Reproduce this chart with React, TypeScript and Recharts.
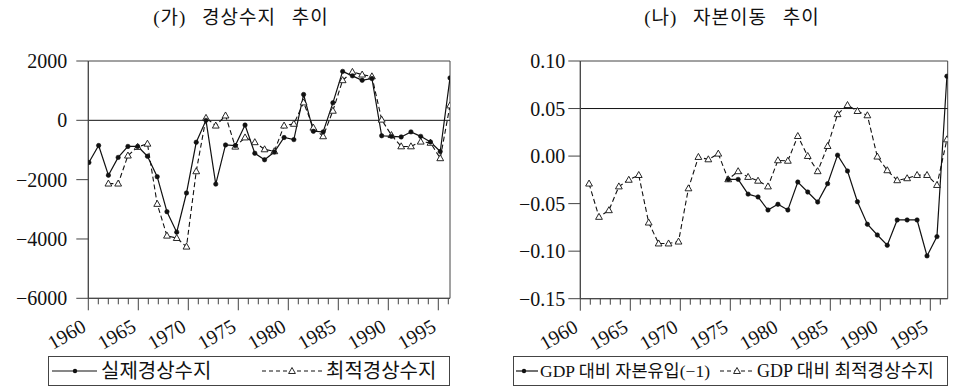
import React from 'react';
import { LineChart, Line, XAxis, YAxis, ReferenceLine, ReferenceArea } from 'recharts';

// ---- data ----
const years = [1960, 1961, 1962, 1963, 1964, 1965, 1966, 1967, 1968, 1969, 1970, 1971, 1972, 1973, 1974, 1975, 1976, 1977, 1978, 1979, 1980, 1981, 1982, 1983, 1984, 1985, 1986, 1987, 1988, 1989, 1990, 1991, 1992, 1993, 1994, 1995, 1996, 1997];

const actualCurrentAccount = [-1420, -850, -1850, -1250, -880, -880, -1210, -1900, -3080, -3770, -2450, -740, 0, -2150, -830, -850, -160, -1110, -1330, -1070, -580, -650, 870, -370, -390, 590, 1650, 1500, 1350, 1410, -520, -540, -560, -390, -540, -730, -1050, 1430];

const optimalCurrentAccount = [null, null, -2135, -2135, -1190, -900, -790, -2820, -3890, -3970, -4260, -1720, 80, -180, 160, -890, -580, -740, -980, -1045, -180, -120, 600, -250, -540, 320, 1350, 1630, 1540, 1480, 20, -500, -880, -880, -720, -760, -1280, 500];

const capitalInflowRatio = [null, null, null, null, null, null, null, null, null, null, null, null, null, null, null, -0.0245, -0.0245, -0.040, -0.043, -0.0567, -0.0507, -0.0567, -0.0273, -0.0378, -0.0483, -0.029, 0.001, -0.0157, -0.048, -0.0717, -0.083, -0.0938, -0.0672, -0.0672, -0.0672, -0.105, -0.0847, 0.084];

const optimalCurrentAccountRatio = [null, -0.029, -0.064, -0.057, -0.032, -0.025, -0.020, -0.070, -0.092, -0.092, -0.090, -0.034, -0.001, -0.0035, 0.0025, -0.0245, -0.016, -0.022, -0.026, -0.032, -0.0045, -0.005, 0.021, 0.000, -0.016, 0.0105, 0.044, 0.0536, 0.0473, 0.0428, -0.0006, -0.015, -0.0255, -0.0234, -0.020, -0.020, -0.0305, 0.0175];

const axisYears = [1960, 1961, 1962, 1963, 1964, 1965, 1966, 1967, 1968, 1969, 1970, 1971, 1972, 1973, 1974, 1975, 1976, 1977, 1978, 1979, 1980, 1981, 1982, 1983, 1984, 1985, 1986, 1987, 1988, 1989, 1990, 1991, 1992, 1993, 1994, 1995, 1996];
const leftYTicks = [-6000, -4000, -2000, 0, 2000];
const rightYTicks = [-0.15, -0.10, -0.05, 0, 0.05, 0.10];

const leftTitle = '(가) 경상수지 추이';
const rightTitle = '(나) 자본이동 추이';
const leftLegend = ['실제경상수지', '최적경상수지'];
const rightLegend = ['GDP 대비 자본유입(−1)', 'GDP 대비 최적경상수지'];

const leftData = years.map((y, i) => ({ year: y, actual: actualCurrentAccount[i], optimal: optimalCurrentAccount[i] }));
const rightData = years.map((y, i) => ({ year: y, inflow: capitalInflowRatio[i], optimal: optimalCurrentAccountRatio[i] }));

const FONT = "'Liberation Serif', 'Noto Sans CJK KR', serif";
const KFONT = "'Liberation Serif', 'Noto Sans CJK KR', sans-serif";
const INK = '#111';
const AXIS = '#444';

const minus = (s: string) => s.replace('-', '\u2212');

const Dot = (props: any) => {
  const { cx, cy, index } = props;
  if (cx == null || cy == null) return <g key={`d${index}`} />;
  return <circle key={`d${index}`} cx={cx} cy={cy} r={2.2} fill={INK} stroke={INK} strokeWidth={0.6} />;
};

const Tri = (props: any) => {
  const { cx, cy, index } = props;
  if (cx == null || cy == null) return <g key={`t${index}`} />;
  return (
    <path
      key={`t${index}`}
      d={`M${cx},${cy - 3.6} L${cx + 3.4},${cy + 2.4} L${cx - 3.4},${cy + 2.4} Z`}
      fill="#fff"
      stroke={INK}
      strokeWidth={0.9}
    />
  );
};

const YearTick = (props: any) => {
  const { x, y, payload } = props;
  const v = payload.value;
  const major = Math.round(v) % 5 === 0;
  const tx = x - 1;
  const ty = y + 32;
  return (
    <g>
      <line x1={x} y1={y} x2={x} y2={y + (major ? 12 : 6)} stroke={AXIS} strokeWidth={1} />
      {major && (
        <text x={tx} y={ty} textAnchor="end" transform={`rotate(-30 ${tx} ${ty})`} fontSize={20} fontFamily={FONT} fill={INK}>
          {v}
        </text>
      )}
    </g>
  );
};

const LegendSample = ({ dashed, width, at }: { dashed: boolean; width: number; at: number }) => (
  <svg width={width} height={12} style={{ display: 'block' }}>
    <line x1={0} y1={6} x2={width} y2={6} stroke={INK} strokeWidth={1.2} strokeDasharray={dashed ? '4 3' : undefined} />
    {dashed ? (
      <path d={`M${at},2.5 L${at + 3.4},8.5 L${at - 3.4},8.5 Z`} fill="#fff" stroke={INK} strokeWidth={0.9} />
    ) : (
      <circle cx={at} cy={6} r={2.2} fill={INK} />
    )}
  </svg>
);

const abs = (l: number, t: number): React.CSSProperties => ({ position: 'absolute', left: l, top: t });

const titleStyle: React.CSSProperties = {
  width: 320,
  textAlign: 'center',
  fontFamily: KFONT,
  fontSize: 19,
  letterSpacing: 1,
  wordSpacing: 10,
  color: INK,
  lineHeight: '26px',
  whiteSpace: 'nowrap',
};

export default function App() {
  return (
    <div style={{ position: 'absolute', left: 0, top: 0, width: 955, height: 389, background: '#fff', overflow: 'hidden' }}>
      {/* titles */}
      <div style={{ ...abs(81, 5), ...titleStyle }}>{leftTitle}</div>
      <div style={{ ...abs(572, 5), ...titleStyle }}>{rightTitle}</div>

      {/* left chart */}
      <div style={abs(0, 0)}>
        <LineChart width={470} height={389} data={leftData} margin={{ top: 61, right: 20, bottom: 60.7, left: 0 }}>
          <XAxis xAxisId="d" dataKey="year" type="number" domain={[1959.94, 1997.0]} hide height={0} allowDataOverflow />
          <XAxis
            xAxisId="t"
            dataKey="year"
            type="number"
            domain={[1960, 1996.17]}
            ticks={axisYears}
            interval={0}
            allowDataOverflow
            height={30}
            tickSize={0}
            tickMargin={0}
            tickLine={false}
            axisLine={{ stroke: AXIS }}
            tick={<YearTick />}
          />
          <YAxis
            type="number"
            domain={[-6000, 2000]}
            ticks={leftYTicks}
            width={88.3}
            tickSize={12}
            tickMargin={9}
            axisLine={{ stroke: AXIS }}
            tickLine={{ stroke: AXIS }}
            tick={{ fontSize: 20, fill: INK, fontFamily: FONT }}
            tickFormatter={(v: number) => minus(String(v))}
            allowDataOverflow
          />
          <ReferenceArea xAxisId="d" x1={1959.94} x2={1997.0} y1={-6000} y2={2000} fill="none" stroke={AXIS} strokeWidth={1} fillOpacity={0} />
          <ReferenceLine xAxisId="d" y={0} stroke={INK} strokeWidth={1} />
          <Line xAxisId="d" dataKey="optimal" stroke={INK} strokeWidth={1.1} strokeDasharray="5 3" dot={<Tri />} isAnimationActive={false} />
          <Line xAxisId="d" dataKey="actual" stroke={INK} strokeWidth={1.2} dot={<Dot />} isAnimationActive={false} />
        </LineChart>
      </div>

      {/* right chart */}
      <div style={abs(470, 0)}>
        <LineChart width={485} height={389} data={rightData} margin={{ top: 61, right: 7.3, bottom: 60.3, left: 0 }}>
          <XAxis xAxisId="d" dataKey="year" type="number" domain={[1960.12, 1997.08]} hide height={0} allowDataOverflow />
          <XAxis
            xAxisId="t"
            dataKey="year"
            type="number"
            domain={[1960, 1996.74]}
            ticks={axisYears}
            interval={0}
            allowDataOverflow
            height={30}
            tickSize={0}
            tickMargin={0}
            tickLine={false}
            axisLine={{ stroke: AXIS }}
            tick={<YearTick />}
          />
          <YAxis
            type="number"
            domain={[-0.15, 0.1]}
            ticks={rightYTicks}
            width={110.3}
            tickSize={12}
            tickMargin={3}
            axisLine={{ stroke: AXIS }}
            tickLine={{ stroke: AXIS }}
            tick={{ fontSize: 20, fill: INK, fontFamily: FONT }}
            tickFormatter={(v: number) => minus(v.toFixed(2))}
            allowDataOverflow
          />
          <ReferenceArea xAxisId="d" x1={1960.12} x2={1997.08} y1={-0.15} y2={0.1} fill="none" stroke={AXIS} strokeWidth={1} fillOpacity={0} />
          <ReferenceLine xAxisId="d" y={0.05} stroke={INK} strokeWidth={1} />
          <Line xAxisId="d" dataKey="optimal" stroke={INK} strokeWidth={1.1} strokeDasharray="5 3" dot={<Tri />} isAnimationActive={false} />
          <Line xAxisId="d" dataKey="inflow" stroke={INK} strokeWidth={1.2} dot={<Dot />} isAnimationActive={false} />
        </LineChart>
      </div>

      {/* left legend */}
      <div style={{ ...abs(48, 356), width: 402, height: 30, border: `1px solid ${AXIS}`, boxSizing: 'border-box' }} />
      <div style={{ ...abs(52, 365) }}><LegendSample dashed={false} width={45} at={23} /></div>
      <div style={{ ...abs(101, 356), fontFamily: KFONT, fontSize: 20, lineHeight: '30px', color: INK }}>{leftLegend[0]}</div>
      <div style={{ ...abs(262, 365) }}><LegendSample dashed={true} width={62} at={30} /></div>
      <div style={{ ...abs(326, 356), fontFamily: KFONT, fontSize: 20, lineHeight: '30px', color: INK }}>{leftLegend[1]}</div>

      {/* right legend */}
      <div style={{ ...abs(513, 356), width: 435, height: 30, border: `1px solid ${AXIS}`, boxSizing: 'border-box' }} />
      <div style={{ ...abs(516, 365) }}><LegendSample dashed={false} width={22} at={8} /></div>
      <div style={{ ...abs(540, 356), fontFamily: KFONT, fontSize: 17.5, lineHeight: '30px', color: INK }}>{rightLegend[0]}</div>
      <div style={{ ...abs(720, 365) }}><LegendSample dashed={true} width={34} at={17} /></div>
      <div style={{ ...abs(757, 356), fontFamily: KFONT, fontSize: 18, lineHeight: '30px', color: INK }}>{rightLegend[1]}</div>
    </div>
  );
}
